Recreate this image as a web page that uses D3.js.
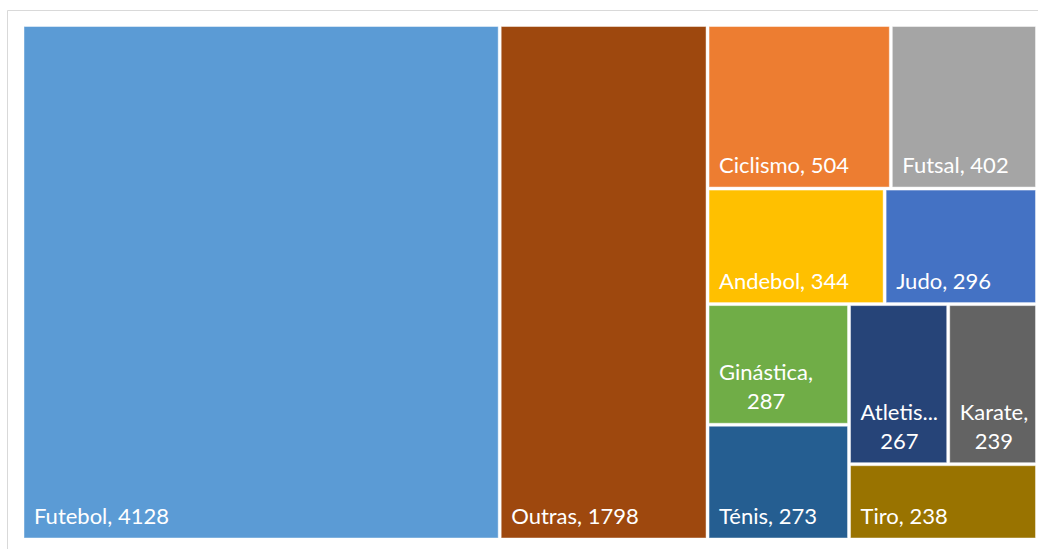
<!DOCTYPE html>
<html>
<head>
<meta charset="utf-8">
<script src="https://cdn.jsdelivr.net/npm/d3@7"></script>
<style>
  html, body { margin: 0; padding: 0; background: #fff; }
  svg { display: block; }
  text { font-family: Lato, "Open Sans", sans-serif; fill: #fff; }
</style>
</head>
<body>
<svg id="chart" width="1038" height="549"></svg>
<script>
// ---- data ----
const categories = ["Futebol", "Outras", "Ciclismo", "Futsal", "Andebol", "Judo",
                    "Ginástica", "Ténis", "Atletismo", "Karate", "Tiro"];
const values = [4128, 1798, 504, 402, 344, 296, 287, 273, 267, 239, 238];
const colors = ["#5B9BD5", "#9E480E", "#ED7D31", "#A5A5A5", "#FFC000", "#4472C4",
                "#70AD47", "#255E91", "#264478", "#636363", "#997300"];

// ---- layout ----
const svg = d3.select("#chart");
const plot = { x: 24, y: 26.5, w: 1011.5, h: 511.5 };
const fontSize = 22;
const lineH = 29;
const padL = 10;
const padB = 14;

// chart area border
svg.append("path")
  .attr("d", "M7.5,560 V10.5 H1050")
  .attr("fill", "none")
  .attr("stroke", "#d9d9d9")
  .attr("stroke-width", 1);

// squarified tiling (same as d3's, but allowing a target ratio below 1, as Excel does)
function squarifyTile(ratio) {
  return function(parent, x0, y0, x1, y1) {
    const nodes = parent.children, n = nodes.length;
    let i0 = 0, i1 = 0, value = parent.value;
    while (i0 < n) {
      const dx = x1 - x0, dy = y1 - y0;
      let sumValue;
      do sumValue = nodes[i1++].value; while (!sumValue && i1 < n);
      let minValue = sumValue, maxValue = sumValue;
      const alpha = Math.max(dy / dx, dx / dy) / (value * ratio);
      let beta = sumValue * sumValue * alpha;
      let minRatio = Math.max(maxValue / beta, beta / minValue);
      for (; i1 < n; ++i1) {
        const nv = nodes[i1].value;
        sumValue += nv;
        if (nv < minValue) minValue = nv;
        if (nv > maxValue) maxValue = nv;
        beta = sumValue * sumValue * alpha;
        const newRatio = Math.max(maxValue / beta, beta / minValue);
        if (newRatio > minRatio) { sumValue -= nv; break; }
        minRatio = newRatio;
      }
      const row = { value: sumValue, children: nodes.slice(i0, i1) };
      if (dx < dy) d3.treemapDice(row, x0, y0, x1, value ? (y0 += dy * sumValue / value) : y1);
      else d3.treemapSlice(row, x0, y0, value ? (x0 += dx * sumValue / value) : x1, y1);
      value -= sumValue;
      i0 = i1;
    }
  };
}

const rows = categories.map((c, i) => ({ name: c, value: values[i], color: colors[i] }));
const root = d3.hierarchy({ children: rows })
  .sum(d => d.value || 0)
  .sort((a, b) => b.value - a.value);

d3.treemap()
  .tile(squarifyTile(0.94))
  .size([plot.w, plot.h])
  .paddingInner(3)(root);

const g = svg.append("g").attr("transform", `translate(${plot.x},${plot.y})`);

const cells = g.selectAll("g.cell")
  .data(root.leaves())
  .join("g")
  .attr("class", "cell")
  .attr("transform", d => `translate(${d.x0},${d.y0})`);

cells.append("rect")
  .attr("width", d => d.x1 - d.x0)
  .attr("height", d => d.y1 - d.y0)
  .attr("fill", d => d.data.color)
  .attr("stroke", "rgba(255,255,255,0.45)")
  .attr("stroke-width", 1);

// measuring helper
const meas = svg.append("text").attr("font-size", fontSize).attr("x", -1000).attr("y", -1000);
function tw(s) { meas.text(s); return meas.node().getComputedTextLength(); }

cells.each(function(d) {
  const w = d.x1 - d.x0, h = d.y1 - d.y0;
  const avail = w - 2 * padL + 4;
  const full = `${d.data.name}, ${d.data.value}`;
  let lines;
  if (tw(full) <= avail) {
    lines = [full];
  } else {
    let first = `${d.data.name},`;
    if (tw(first) > avail) {
      let nm = d.data.name;
      while (nm.length > 1 && tw(nm + "...") > avail) nm = nm.slice(0, -1);
      first = nm + "...";
    }
    lines = [first, String(d.data.value)];
  }
  const bw = d3.max(lines, l => tw(l));
  const cx = padL + (lines.length > 1 ? bw / 2 : 0);
  const sel = d3.select(this);
  lines.forEach((l, i) => {
    sel.append("text")
      .attr("x", cx)
      .attr("y", h - padB - (lines.length - 1 - i) * lineH)
      .attr("font-size", fontSize)
      .attr("text-anchor", lines.length > 1 ? "middle" : "start")
      .text(l);
  });
});
meas.remove();
</script>
</body>
</html>
